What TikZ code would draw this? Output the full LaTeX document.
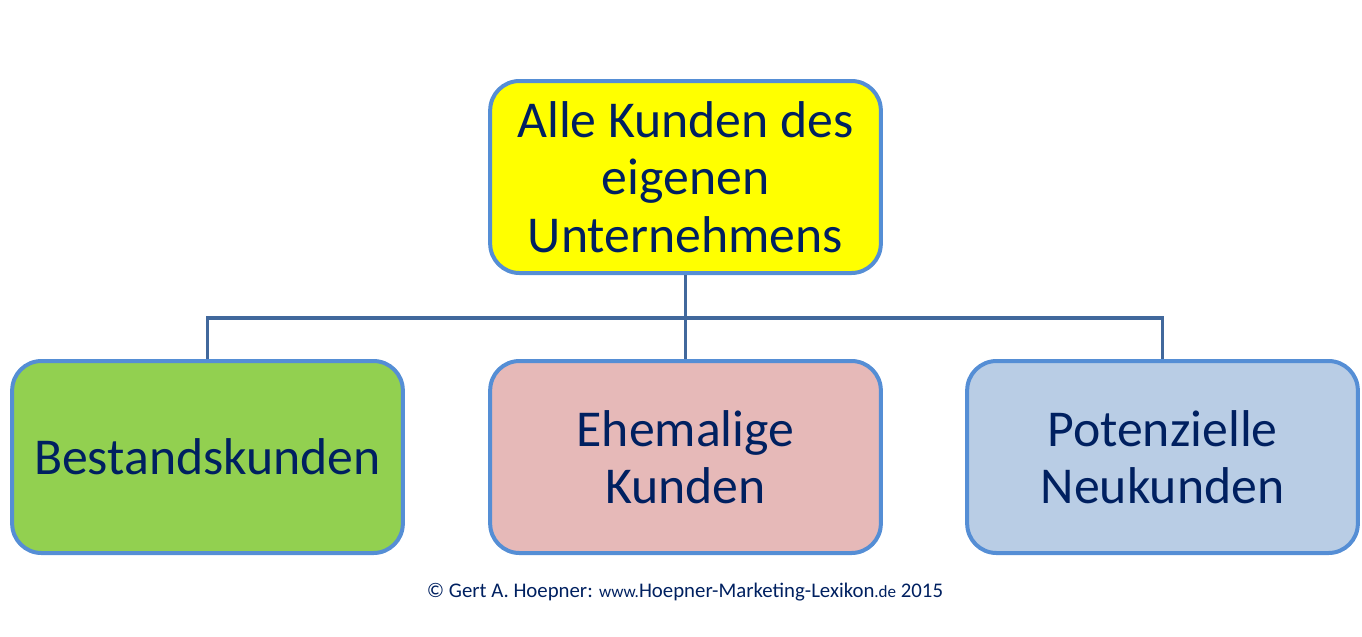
\documentclass[tikz,border=0pt]{standalone}
\usepackage{fontspec}
\setmainfont{Carlito}
\usetikzlibrary{positioning}

\definecolor{rahmen}{HTML}{558ED5}
\definecolor{linienblau}{HTML}{41689C}
\definecolor{schrift}{HTML}{002060}
\definecolor{gelb}{HTML}{FFFF00}
\definecolor{gruen}{HTML}{92D050}
\definecolor{rosa}{HTML}{E6B9B8}
\definecolor{hellblau}{HTML}{B9CDE5}

\tikzset{
  kunde/.style={draw=rahmen, line width=3pt, rounded corners=22pt,
    minimum width=293pt, minimum height=144pt, align=center,
    text=schrift, font=\fontsize{38.8}{43}\selectfont},
  linie/.style={draw=linienblau, line width=2.6pt}
}

\begin{document}
\begin{tikzpicture}[x=0.75pt, y=-0.75pt]

\useasboundingbox (0, 0) rectangle (1362, 636);

\node[kunde, fill=gelb] (alle) at (685.5, 177) {Alle Kunden des\\eigenen\\Unternehmens};

\node[kunde, fill=gruen] (bestand) at (207.5, 457) {Bestandskunden};
\node[kunde, fill=rosa] (ehemalig) at (685.5, 457) {Ehemalige\\Kunden};
\node[kunde, fill=hellblau] (potenziell) at (1162.5, 457) {Potenzielle\\Neukunden};

\coordinate (knoten) at (685.5, 318);

\draw[linie] (alle.south) -- (knoten);
\draw[linie] (ehemalig.north) -- (knoten);
\draw[linie] (bestand.north) |- (knoten);
\draw[linie] (potenziell.north) |- (knoten);

\node[anchor=base, text=schrift, font=\fontsize{15.6}{19}\selectfont] (quelle) at (685, 597)
  {© Gert A. Hoepner: {\fontsize{12.8}{15}\selectfont www.}Hoepner-Marketing-Lexikon{\fontsize{12.8}{15}\selectfont .de} 2015};

\end{tikzpicture}
\end{document}
